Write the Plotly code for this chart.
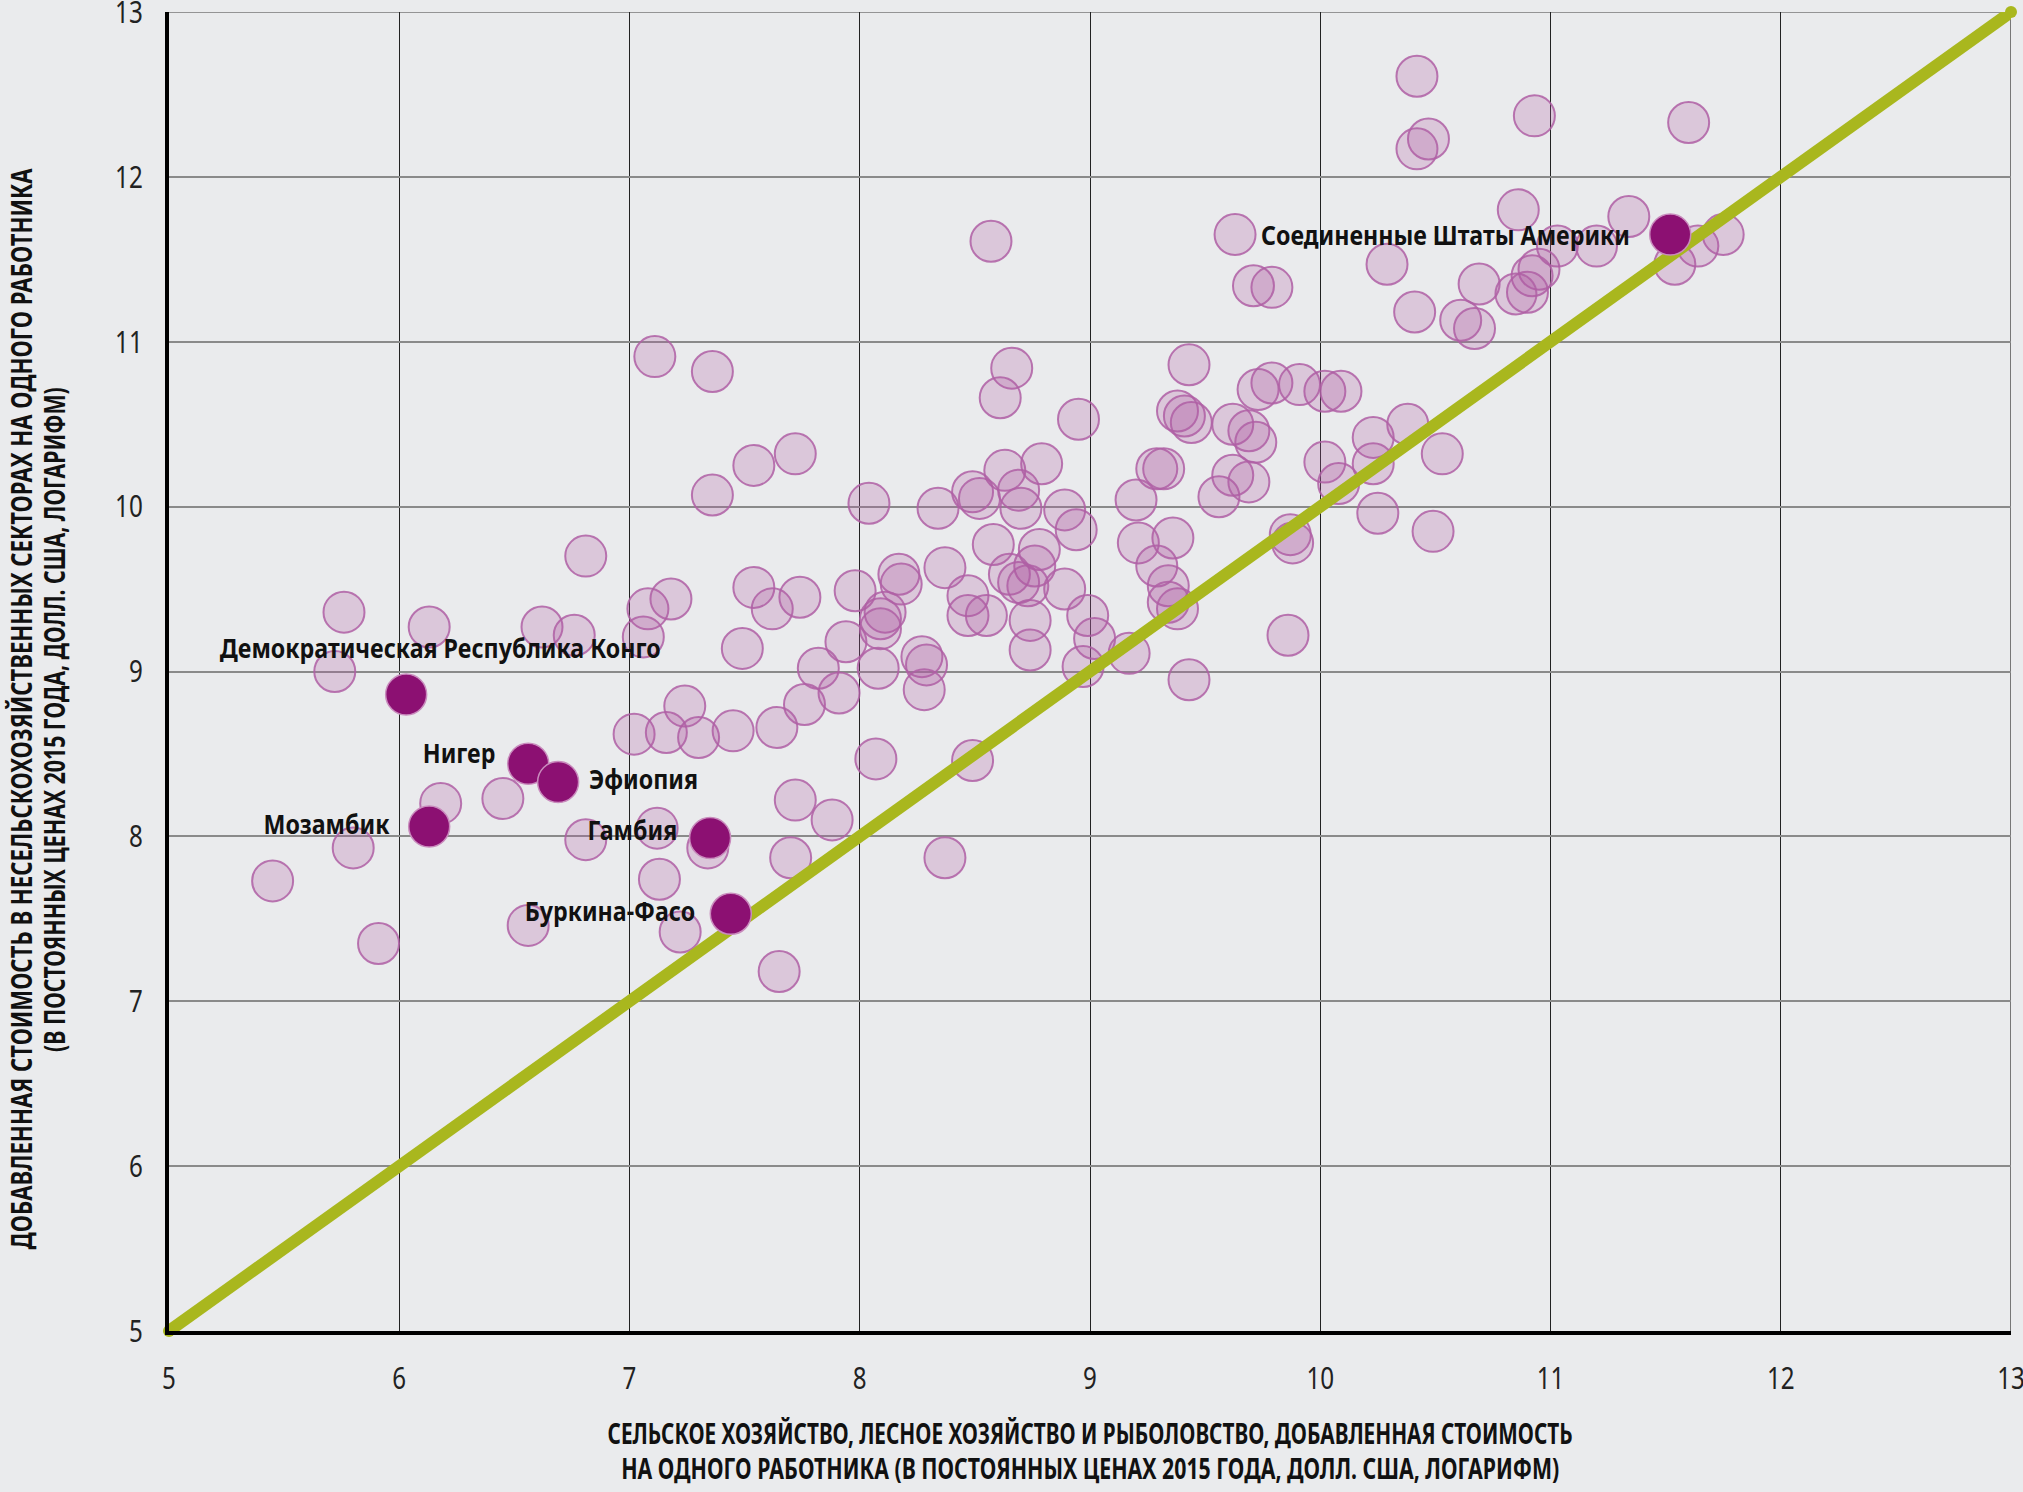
import json
import plotly.graph_objects as go

# ---- data (log value added per worker) ----
agri_x = [10.42, 10.93, 11.60, 10.47, 10.42, 10.86, 11.34, 8.57, 9.63, 11.03,
          11.20, 11.64, 11.75, 11.54, 10.29, 9.71, 9.79, 10.69, 10.95, 10.92,
          10.90, 10.85, 10.41, 10.61, 10.67, 10.38, 10.23, 10.23, 10.53, 10.25,
          10.49, 10.02, 10.09, 9.91, 9.79, 9.73, 9.43, 9.38, 9.41, 9.44,
          9.62, 9.69, 9.72, 10.02, 10.08, 9.29, 9.32, 9.20, 9.56, 9.62,
          9.69, 9.87, 9.88, 9.86, 9.43, 9.36, 9.21, 9.29, 9.34, 9.34,
          9.38, 9.17, 8.99, 9.02, 8.97, 8.94, 8.89, 8.95, 8.66, 8.61,
          8.79, 8.63, 8.69, 8.70, 8.49, 8.52, 8.34, 8.04, 8.58, 8.78,
          8.76, 8.65, 8.69, 8.73, 8.89, 8.47, 8.47, 8.55, 8.74, 8.74,
          8.37, 8.17, 8.18, 7.98, 8.11, 8.09, 8.09, 7.94, 8.08, 7.82,
          7.91, 7.76, 8.27, 8.29, 8.28, 7.54, 7.62, 7.74, 7.49, 7.24,
          7.30, 7.45, 7.64, 7.02, 7.16, 8.07, 8.49, 7.72, 7.88, 7.70,
          8.37, 7.65, 7.34, 7.12, 7.13, 7.22, 6.56, 6.81, 6.45, 6.18,
          5.80, 5.45, 5.91, 5.76, 5.72, 6.13, 6.62, 6.76, 6.81, 7.08,
          7.18, 7.06, 7.11, 7.36, 7.54, 7.72, 7.36]
nonagri_y = [12.61, 12.37, 12.33, 12.23, 12.17, 11.80, 11.76, 11.61, 11.65, 11.58,
             11.58, 11.58, 11.65, 11.47, 11.47, 11.34, 11.33, 11.35, 11.44, 11.40,
             11.30, 11.29, 11.18, 11.13, 11.08, 10.50, 10.42, 10.26, 10.32, 9.96,
             9.85, 10.70, 10.70, 10.74, 10.75, 10.71, 10.86, 10.58, 10.55, 10.51,
             10.50, 10.46, 10.39, 10.27, 10.14, 10.23, 10.23, 10.04, 10.06, 10.19,
             10.15, 9.83, 9.78, 9.22, 8.95, 9.81, 9.78, 9.64, 9.52, 9.42,
             9.38, 9.11, 9.34, 9.20, 9.03, 9.86, 9.98, 10.53, 10.84, 10.66,
             10.26, 10.22, 10.10, 9.99, 10.09, 10.05, 9.99, 10.02, 9.77, 9.74,
             9.64, 9.59, 9.54, 9.52, 9.50, 9.46, 9.34, 9.34, 9.31, 9.13,
             9.63, 9.59, 9.53, 9.49, 9.36, 9.32, 9.26, 9.18, 9.02, 9.02,
             8.87, 8.80, 9.09, 9.04, 8.89, 9.51, 9.38, 9.45, 9.14, 8.79,
             8.60, 8.64, 8.66, 8.62, 8.63, 8.47, 8.46, 8.22, 8.10, 7.87,
             7.87, 7.18, 7.93, 8.05, 7.74, 7.42, 7.46, 7.98, 8.23, 8.20,
             7.93, 7.73, 7.35, 9.36, 9.00, 9.27, 9.27, 9.22, 9.70, 9.38,
             9.44, 9.21, 10.91, 10.82, 10.25, 10.32, 10.07]

hl_names = ["Демократическая Республика Конго", "Нигер", "Эфиопия", "Мозамбик",
            "Гамбия", "Буркина-Фасо", "Соединенные Штаты Америки"]
hl_x = [6.03, 6.56, 6.69, 6.13, 7.35, 7.44, 11.52]
hl_y = [8.86, 8.44, 8.33, 8.06, 7.99, 7.53, 11.65]

parity_x = [5, 13]
parity_y = [5, 13]

tick_vals = [5, 6, 7, 8, 9, 10, 11, 12, 13]
tick_text = ["5", "6", "7", "8", "9", "10", "11", "12", "13"]

x_title_lines = ["СЕЛЬСКОЕ ХОЗЯЙСТВО, ЛЕСНОЕ ХОЗЯЙСТВО И РЫБОЛОВСТВО, ДОБАВЛЕННАЯ СТОИМОСТЬ",
                 "НА ОДНОГО РАБОТНИКА (В ПОСТОЯННЫХ ЦЕНАХ 2015 ГОДА, ДОЛЛ. США, ЛОГАРИФМ)"]
y_title_lines = ["ДОБАВЛЕННАЯ СТОИМОСТЬ В НЕСЕЛЬСКОХОЗЯЙСТВЕННЫХ СЕКТОРАХ НА ОДНОГО РАБОТНИКА",
                 "(В ПОСТОЯННЫХ ЦЕНАХ 2015 ГОДА, ДОЛЛ. США, ЛОГАРИФМ)"]

# ---- styles ----
BG = "#eaebed"
FONT = "Noto Sans, Open Sans, sans-serif"
label_style = {  # xanchor, xshift, yshift (px)
    "Демократическая Республика Конго": ("center", 34, 47),
    "Нигер": ("right", -31, 11),
    "Эфиопия": ("left", 29, 3),
    "Мозамбик": ("right", -37, 3),
    "Гамбия": ("right", -31, 9),
    "Буркина-Фасо": ("right", -34, 3),
    "Соединенные Штаты Америки": ("right", -38, 0),
}
anchor_sign = {"right": 1, "left": -1, "center": 0}
x_title_pos = [-0.0775, -0.1035]   # paper y of each line
y_title_pos = [(-0.0800, 0.472), (-0.0625, 0.464)]   # paper x, y of each line
LABEL_SQ = 0.86
X_TITLE_SQ = [0.74, 0.76]
Y_TITLE_SQ = [0.79, 0.76]
TICK_SQ = 0.78

fig = go.Figure()

fig.add_trace(go.Scatter(
    x=agri_x, y=nonagri_y, mode="markers",
    marker=dict(size=41, color="rgba(175,90,165,0.25)",
                line=dict(color="rgba(175,95,165,0.85)", width=2)),
    hoverinfo="skip", showlegend=False))

fig.add_trace(go.Scatter(
    x=parity_x, y=parity_y, mode="lines+markers",
    line=dict(color="#a9b71e", width=12),
    marker=dict(size=12, color="#a9b71e"),
    cliponaxis=False, hoverinfo="skip", showlegend=False))

fig.add_trace(go.Scatter(
    x=hl_x, y=hl_y, mode="markers",
    marker=dict(size=41, color="#8c1072",
                line=dict(color="#c98bbd", width=1.5)),
    hoverinfo="skip", showlegend=False))

annotations = []
squeeze = []
shift = []
for name, xv, yv in zip(hl_names, hl_x, hl_y):
    xa, xs, ys = label_style[name]
    annotations.append(dict(
        x=xv, y=yv, xref="x", yref="y", text=name,
        showarrow=False, xanchor=xa, yanchor="middle", xshift=xs, yshift=ys,
        font=dict(family=FONT, size=27, color="#111111", weight="bold")))
    squeeze.append(LABEL_SQ)
    shift.append(anchor_sign[xa])

for line, yp, sq in zip(x_title_lines, x_title_pos, X_TITLE_SQ):
    annotations.append(dict(
        x=0.5, y=yp, xref="paper", yref="paper", text=line,
        showarrow=False, xanchor="center", yanchor="middle",
        font=dict(family=FONT, size=28, color="#111111", weight="bold")))
    squeeze.append(sq)
    shift.append(0)
for line, (xp, yp), sq in zip(y_title_lines, y_title_pos, Y_TITLE_SQ):
    annotations.append(dict(
        x=xp, y=yp, xref="paper", yref="paper", text=line,
        showarrow=False, xanchor="center", yanchor="middle", textangle=-90,
        font=dict(family=FONT, size=28, color="#111111", weight="bold")))
    squeeze.append(sq)
    shift.append(0)

fig.update_layout(
    width=2023, height=1492,
    margin=dict(l=169, r=12, t=12, b=161, autoexpand=False),
    paper_bgcolor=BG, plot_bgcolor=BG,
    annotations=annotations,
    shapes=[
        dict(type="line", xref="x", yref="paper", x0=13, x1=13, y0=0, y1=1,
             line=dict(color="#777777", width=2), layer="below"),
        dict(type="line", xref="paper", yref="y", x0=0, x1=1, y0=13, y1=13,
             line=dict(color="#777777", width=1.5), layer="below"),
    ],
)

fig.update_xaxes(
    range=[5, 13], tickvals=tick_vals, ticktext=tick_text, automargin=False,
    showgrid=True, gridcolor="#222222", gridwidth=1,
    zeroline=False, showline=True, linecolor="#000000", linewidth=4,
    ticks="outside", ticklen=17, tickcolor="rgba(0,0,0,0)",
    ticklabeloverflow="allow",
    tickfont=dict(family=FONT, size=31, color="#222222"))
fig.update_yaxes(
    range=[5, 13], tickvals=tick_vals, ticktext=tick_text, automargin=False,
    showgrid=True, gridcolor="#8a8a8a", gridwidth=1.5,
    zeroline=False, showline=True, linecolor="#000000", linewidth=4,
    ticks="outside", ticklen=16, tickcolor="rgba(0,0,0,0)",
    ticklabeloverflow="allow",
    tickfont=dict(family=FONT, size=31, color="#222222"))

# condense text horizontally (the reference uses a condensed typeface)
post = ("var gd=document.getElementById('{plot_id}');"
        "var SQ=" + json.dumps(squeeze) + ";var SH=" + json.dumps(shift) + ";"
        "var TSQ=" + json.dumps(TICK_SQ) + ";"
        "function cond(t,f){var L=t.getComputedTextLength();var L2=L*f;"
        "t.setAttribute('textLength',L2.toFixed(1));"
        "t.setAttribute('lengthAdjust','spacingAndGlyphs');t.setAttribute('data-sq','1');return L-L2;}"
        "function sq(){gd.querySelectorAll('g.annotation').forEach(function(g){"
        "var i=+g.getAttribute('data-index');var t=g.querySelector('text.annotation-text');"
        "if(!t||t.getAttribute('data-sq'))return;var d=cond(t,SQ[i]);"
        "var x=parseFloat(t.getAttribute('x')||'0');"
        "t.setAttribute('x',(x+SH[i]*d/2).toFixed(1));});"
        "gd.querySelectorAll('g.xtick text, g.ytick text').forEach(function(t){"
        "if(t.getAttribute('data-sq'))return;cond(t,TSQ);});}"
        "sq();setTimeout(sq,200);setTimeout(sq,800);gd.on&&gd.on('plotly_afterplot',sq);")

fig.write_html("out.html", config={"displayModeBar": False}, post_script=post)

with open("out.html", encoding="utf-8") as f:
    html = f.read()
html = html.replace("<head>", "<head><style>body{margin:0;overflow:hidden;}</style>", 1)
with open("out.html", "w", encoding="utf-8") as f:
    f.write(html)
